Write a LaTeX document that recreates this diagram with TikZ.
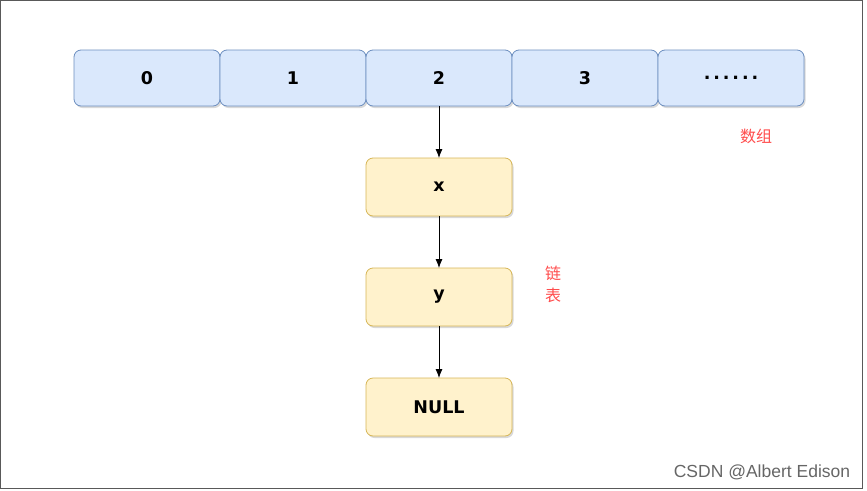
\documentclass[tikz,border=0pt]{standalone}
\usepackage{fontspec}
\setmainfont{DejaVu Sans}
\newfontfamily\cjk{Noto Sans CJK SC}
\newfontfamily\markfont{Liberation Sans}
\usetikzlibrary{positioning,shadows,arrows.meta}

\definecolor{cellfill}{HTML}{DAE8FC}
\definecolor{celldraw}{HTML}{6C8EBF}
\definecolor{itemfill}{HTML}{FFF2CC}
\definecolor{itemdraw}{HTML}{D6B656}
\definecolor{notered}{HTML}{FF4D4D}

\tikzset{
  box/.style={rounded corners=7pt, line width=0.8pt, outer sep=0pt,
    minimum width=146pt, font=\bfseries\fontsize{17.5}{20}\selectfont,
    drop shadow={opacity=0.3, shadow xshift=1.5pt, shadow yshift=-2pt}},
  cell/.style={box, fill=cellfill, draw=celldraw, minimum height=56pt},
  item/.style={box, fill=itemfill, draw=itemdraw, minimum height=58pt},
  link/.style={-{Latex[length=9pt,width=7pt]}, line width=0.8pt},
  note/.style={text=notered, font=\cjk\fontsize{16}{22}\selectfont}
}

\begin{document}
\begin{tikzpicture}[x=1pt, y=-1pt]
\useasboundingbox (0,0) rectangle (867,490);
\draw[gray!70!black, line width=1pt] (0.5,0.5) rectangle (862,488);

% array
\node[cell] (a0) at (147,78) {0};
\node[cell, right=0pt of a0] (a1) {1};
\node[cell, right=0pt of a1] (a2) {2};
\node[cell, right=0pt of a2] (a3) {3};
\node[cell, right=0pt of a3] (a4) {.\,.\,.\,.\,.\,.};

% linked list
\node[item, below=52pt of a2] (lx) {x};
\node[item, below=52pt of lx] (ly) {y};
\node[item, below=52pt of ly] (ln) {NULL};

\draw[link] (a2) -- (lx);
\draw[link] (lx) -- (ly);
\draw[link] (ly) -- (ln);

% labels
\node[note] (arr) at (756,136) {数组};
\node[note, align=center] (lst) at (553,284) {链\\表};
\node[text=gray!80!black, font=\markfont\fontsize{17.5}{20}\selectfont] (mark) at (762,472) {CSDN @Albert Edison};
\end{tikzpicture}
\end{document}
